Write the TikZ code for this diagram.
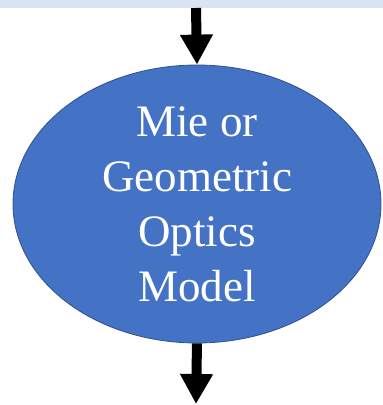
\documentclass[tikz,border=0pt]{standalone}
\usepackage{fontspec}
\setmainfont{Liberation Serif}
\usepackage{tikz}
\usetikzlibrary{positioning,calc,shapes.geometric,arrows.meta}
\definecolor{mBlue}{RGB}{68,114,196}
\definecolor{mEdge}{RGB}{47,82,143}
\definecolor{mBand}{RGB}{218,227,243}

\begin{document}
\begin{tikzpicture}[
  x=1pt,y=1pt,
  model/.style={ellipse,draw=mEdge,fill=mBlue,line width=0.8pt,minimum width=368pt,minimum height=278pt,inner sep=0pt,align=center,text=white,font=\fontsize{45}{55}\selectfont},
  flow/.style={-{Triangle[width=31pt,length=30pt]},line width=10pt,black}
]
  \useasboundingbox (0,0) rectangle (383,-405);
  \fill[mBand] (0,0) rectangle (383,-8);

  \node[model] (mie) at (197,-204) {Mie or\\Geometric\\Optics\\Model};
  \coordinate (in) at (196,-8);
  \coordinate (out) at (196,-404);

  \draw[flow] (in) -- (mie.north);
  \draw[flow] (mie.south) -- (out);
\end{tikzpicture}
\end{document}
